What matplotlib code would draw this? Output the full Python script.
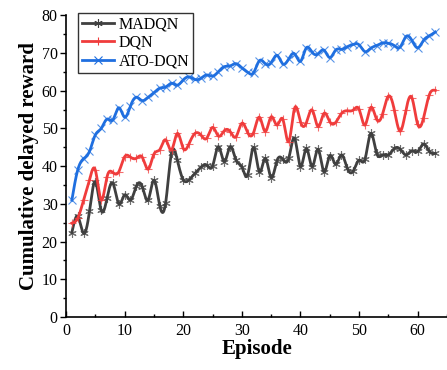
import numpy as np
import matplotlib
matplotlib.use("Agg")
import matplotlib.pyplot as plt
from matplotlib.ticker import MultipleLocator

# data
episodes = np.arange(1, 64)

madqn = [22.4, 26.7, 22.2, 28.0, 35.9, 28.3, 31.5, 35.5, 30.0, 32.4,
         31.0, 34.7, 34.6, 31.0, 36.3, 29.5, 30.3, 43.5, 41.6, 36.4,
         36.4, 38.1, 39.7, 40.3, 40.0, 45.2, 41.2, 45.2, 41.6, 39.8,
         37.7, 45.0, 38.5, 42.1, 37.0, 41.5, 41.8, 42.1, 47.4, 39.9,
         44.7, 39.9, 44.5, 38.5, 42.8, 40.5, 43.0, 39.4, 38.7, 41.6,
         41.8, 48.7, 43.4, 43.0, 43.0, 44.7, 44.5, 43.0, 44.1, 43.9,
         45.9, 43.9, 43.4]

dqn = [24.9, 26.2, 31.0, 36.3, 39.0, 31.0, 37.2, 38.3, 38.5, 42.5,
       42.4, 42.1, 42.4, 39.2, 43.2, 44.4, 47.0, 44.3, 48.7, 44.7,
       46.0, 48.7, 48.3, 47.4, 50.3, 48.0, 49.4, 49.2, 47.8, 51.4,
       48.9, 48.9, 53.0, 49.2, 53.1, 50.9, 52.4, 46.5, 55.4, 51.8,
       51.5, 54.9, 50.5, 54.0, 51.8, 51.6, 54.0, 54.7, 54.9, 55.1,
       50.9, 55.6, 52.4, 53.8, 58.6, 55.0, 49.3, 54.9, 58.2, 51.1,
       52.8, 59.0, 60.1]

ato_dqn = [31.0, 39.0, 42.0, 43.9, 48.3, 50.0, 52.5, 52.3, 55.5, 53.0,
           56.0, 58.3, 57.4, 58.3, 59.5, 60.7, 61.0, 62.0, 61.5, 62.9,
           63.7, 63.0, 63.3, 64.2, 63.9, 65.1, 66.4, 66.6, 67.2, 66.1,
           64.9, 64.8, 68.0, 67.2, 67.5, 69.4, 67.1, 68.5, 69.8, 67.8,
           71.4, 70.2, 69.8, 70.8, 68.8, 70.8, 71.0, 71.7, 72.3, 72.2,
           70.4, 71.3, 72.0, 72.7, 72.6, 72.0, 71.6, 74.4, 73.4, 71.4,
           73.4, 74.6, 75.6]

labels = ["MADQN", "DQN", "ATO-DQN"]
colors = ["#404040", "#f03c3c", "#1f6fe0"]
markers = [(6, 2, 0), "+", "x"]


def spline(x, y, n=20):
    """
    natural cubic spline through the points (smooth line like Origin)
    """
    x = np.asarray(x, float)
    y = np.asarray(y, float)
    m = len(x)
    h = np.diff(x)
    A = np.zeros((m, m))
    b = np.zeros(m)
    A[0, 0] = 1
    A[-1, -1] = 1
    for i in range(1, m - 1):
        A[i, i - 1] = h[i - 1]
        A[i, i] = 2 * (h[i - 1] + h[i])
        A[i, i + 1] = h[i]
        b[i] = 3 * ((y[i + 1] - y[i]) / h[i] - (y[i] - y[i - 1]) / h[i - 1])
    c = np.linalg.solve(A, b)
    xs, ys = [], []
    for i in range(m - 1):
        t = np.linspace(0, h[i], n, endpoint=False)
        bb = (y[i + 1] - y[i]) / h[i] - h[i] * (2 * c[i] + c[i + 1]) / 3
        d = (c[i + 1] - c[i]) / (3 * h[i])
        xs.append(x[i] + t)
        ys.append(y[i] + bb * t + c[i] * t ** 2 + d * t ** 3)
    xs.append([x[-1]])
    ys.append([y[-1]])
    return np.concatenate(xs), np.concatenate(ys)


def main():
    plt.rcParams['font.family'] = ['Liberation Serif', 'DejaVu Serif']

    fig = plt.figure(figsize=(4.47, 3.70), dpi=100)
    ax = fig.add_axes([66 / 447, 53 / 370, 1 - 66 / 447, (317 - 15.4) / 370])

    for vals, lab, col, mk in zip([madqn, dqn, ato_dqn], labels, colors, markers):
        xs, ys = spline(episodes, vals)
        ax.plot(xs, ys, '-', color=col, linewidth=2)
        ax.plot(episodes, vals, linestyle='none', marker=mk, color=col,
                markersize=6, markeredgewidth=0.8, alpha=0.75)
        # proxy for legend
        ax.plot([], [], '-', color=col, linewidth=2, marker=mk,
                markersize=6, markeredgewidth=0.8, label=lab)

    ax.set_xlim(0, 65)
    ax.set_ylim(0, 80)
    ax.xaxis.set_major_locator(MultipleLocator(10))
    ax.xaxis.set_minor_locator(MultipleLocator(5))
    ax.yaxis.set_major_locator(MultipleLocator(10))
    ax.yaxis.set_minor_locator(MultipleLocator(5))
    ax.spines['top'].set_visible(False)
    ax.spines['right'].set_visible(False)
    ax.spines['left'].set_linewidth(1.2)
    ax.spines['bottom'].set_linewidth(1.2)
    ax.tick_params(axis='x', which='both', direction='in', labelsize=11.5, pad=4)
    ax.tick_params(axis='y', which='both', direction='out', labelsize=11.5, pad=2)
    ax.tick_params(which='major', length=4, width=1)
    ax.tick_params(which='minor', length=2.5, width=1)

    ax.set_xlabel('Episode', fontsize=15, fontweight='bold', labelpad=0)
    ax.set_ylabel('Cumulative delayed reward', fontsize=15, fontweight='bold', labelpad=2)

    leg = ax.legend(loc='upper left', bbox_to_anchor=(78 / 447, 1 - 12.5 / 370),
                    bbox_transform=fig.transFigure, borderaxespad=0,
                    fontsize=11.5, fancybox=False, frameon=True,
                    handlelength=2.0, handletextpad=0.3, labelspacing=0.15,
                    borderpad=0.25)
    leg.get_frame().set_edgecolor('black')
    leg.get_frame().set_linewidth(1)

    fig.savefig('out.png', dpi=100)


# Call the main program
if __name__ == "__main__":
    main()
